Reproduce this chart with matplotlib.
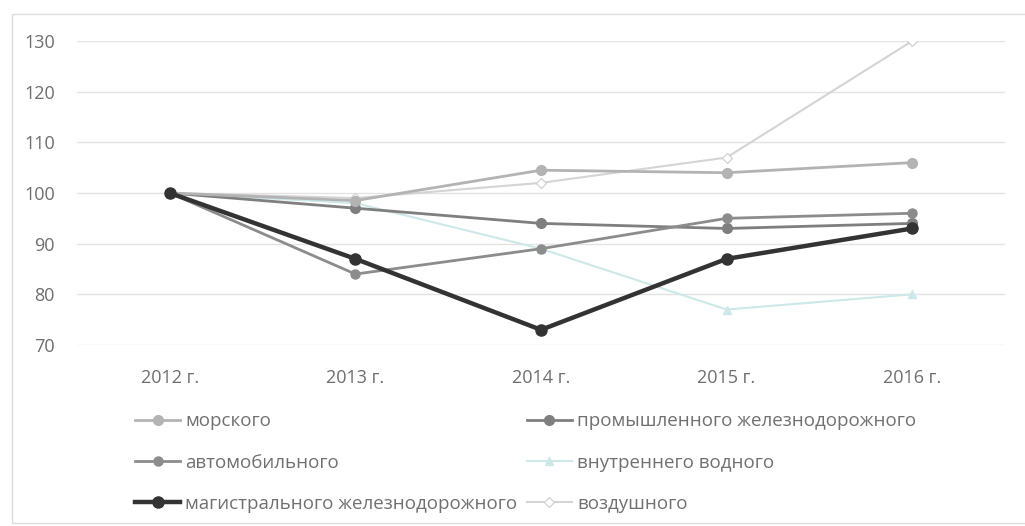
import matplotlib
matplotlib.use("Agg")
import matplotlib.pyplot as plt
from matplotlib.patches import Rectangle

years = ["2012 г.", "2013 г.", "2014 г.", "2015 г.", "2016 г."]
morskoy = [100, 98.5, 104.5, 104, 106]
prom_zhd = [100, 97, 94, 93, 94]
avto = [100, 84, 89, 95, 96]
vnutr_vod = [100, 98, 89, 77, 80]
magistr_zhd = [100, 87, 73, 87, 93]
vozdush = [100, 99, 102, 107, 130]

labels = ["морского", "промышленного железнодорожного", "автомобильного",
          "внутреннего водного", "магистрального железнодорожного", "воздушного"]
series = [morskoy, prom_zhd, avto, vnutr_vod, magistr_zhd, vozdush]
styles = [
    dict(color="#b3b3b3", marker="o", lw=2.0, ms=7),
    dict(color="#7f7f7f", marker="o", lw=2.0, ms=7),
    dict(color="#8c8c8c", marker="o", lw=2.0, ms=6.5),
    dict(color="#cde8e8", marker="^", lw=1.5, ms=6),
    dict(color="#333333", marker="o", lw=3.2, ms=8),
    dict(color="#d4d4d4", marker="D", lw=1.5, ms=5.5, mfc="white"),
]

plt.rcParams['font.family'] = ['Open Sans', 'DejaVu Sans']
fig = plt.figure(figsize=(10.25, 5.26), dpi=100)
W, H = 1025, 526
ax = fig.add_axes([77 / W, 1 - 345 / H, (1005 - 77) / W, (345 - 41) / H])

x = list(range(len(years)))
handles = {}
order = [5, 3, 1, 2, 0, 4]  # draw order (black on top)
for i in order:
    st = dict(styles[i])
    c = st.pop("color")
    mfc = st.pop("mfc", c)
    h, = ax.plot(x, series[i], color=c, markerfacecolor=mfc, markeredgecolor=c,
                 linewidth=st["lw"], marker=st["marker"], markersize=st["ms"],
                 label=labels[i], zorder=3 + (1 if i == 4 else 0))
    handles[i] = h

ax.set_xlim(-0.5, 4.5)
ax.set_ylim(70, 130)
ax.set_yticks([70, 80, 90, 100, 110, 120, 130])
ax.set_xticks(x)
ax.set_xticklabels(years)
ax.grid(axis="y", color="#e3e3e3", linewidth=1.0)
ax.set_axisbelow(True)
for s in ax.spines.values():
    s.set_visible(False)
ax.tick_params(length=0, colors="#6e6e6e", labelsize=13)
ax.tick_params(axis="y", pad=16)
ax.tick_params(axis="x", pad=17)

leg_order = [0, 2, 4, 1, 3, 5]
leg = fig.legend([handles[i] for i in leg_order], [labels[i] for i in leg_order],
                 ncol=2, loc="upper left", bbox_to_anchor=(126 / W, 1 - 403 / H),
                 frameon=False, fontsize=13.5, handlelength=2.4, handletextpad=0.27,
                 columnspacing=0.5, labelspacing=1.24, borderpad=0,
                 labelcolor="#707070")

fig.patches.append(Rectangle((12 / W, 1 - 523 / H), 1.2, (523 - 14) / H,
                             transform=fig.transFigure, fill=False,
                             edgecolor="#dcdcdc", linewidth=1.0))
fig.savefig("out.png", dpi=100)
